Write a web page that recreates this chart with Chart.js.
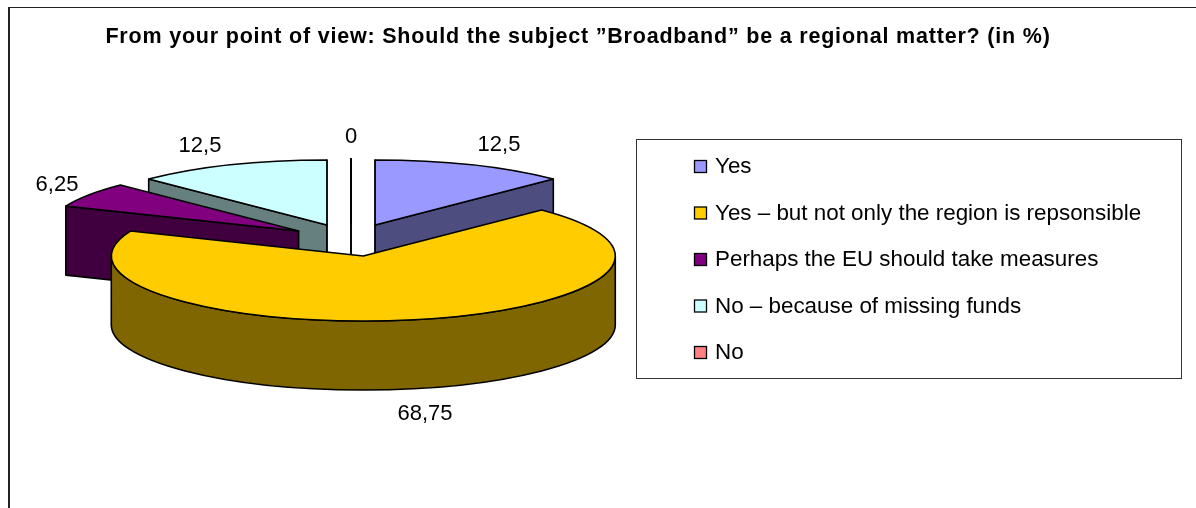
<!DOCTYPE html>
<html>
<head>
<meta charset="utf-8">
<title>Broadband as a regional matter</title>
<script src="https://cdn.jsdelivr.net/npm/chart.js@4"></script>
<style>
    html, body { margin: 0; padding: 0; background: #ffffff; overflow: hidden; }
    canvas { display: block; }
</style>
</head>
<body>
<canvas id="pieChart" width="1196" height="508"></canvas>
<script>
const chartTitle = 'From your point of view: Should the subject ”Broadband” be a regional matter? (in %)';
const categories = [
    'Yes',
    'Yes – but not only the region is repsonsible',
    'Perhaps the EU should take measures',
    'No – because of missing funds',
    'No'
];
const shares = [12.5, 68.75, 6.25, 12.5, 0];
const topColors = ['#9999ff', '#ffcc00', '#800080', '#ccffff', '#ff8080'];
const sideColors = ['#4d4d80', '#806600', '#400040', '#668080', '#804040'];

// --- 3D PIE GEOMETRY ---
const PIE = { x: 351, y: 240, rx: 252, ry: 65, depth: 69, explode: 0.25 };
const FONT = "'Liberation Sans', Arial, sans-serif";

// value label centres, same order as the categories
const labelSpots = [[499, 145], [425, 414], [57, 185], [200, 146], [351, 137]];

function sliceCentre(arc) {
    const mid = (arc.startAngle + arc.endAngle) / 2;
    return {
        x: PIE.x + Math.cos(mid) * PIE.rx * PIE.explode,
        y: PIE.y + Math.sin(mid) * PIE.ry * PIE.explode
    };
}

function drawWall(ctx, c, angle, color) {
    const ex = c.x + Math.cos(angle) * PIE.rx;
    const ey = c.y + Math.sin(angle) * PIE.ry;
    ctx.beginPath();
    ctx.moveTo(c.x, c.y);
    ctx.lineTo(ex, ey);
    ctx.lineTo(ex, ey + PIE.depth);
    ctx.lineTo(c.x, c.y + PIE.depth);
    ctx.closePath();
    ctx.fillStyle = color;
    ctx.fill();
    ctx.stroke();
}

function drawRim(ctx, c, from, to, color) {
    ctx.beginPath();
    ctx.ellipse(c.x, c.y, PIE.rx, PIE.ry, 0, from, to);
    ctx.ellipse(c.x, c.y + PIE.depth, PIE.rx, PIE.ry, 0, to, from, true);
    ctx.closePath();
    ctx.fillStyle = color;
    ctx.fill();
    ctx.stroke();
}

// Only the front half of the ellipse (0..PI) shows a rim
function rimRange(arc) {
    const turn = Math.PI * 2;
    for (const shift of [-turn, 0, turn]) {
        const from = Math.max(arc.startAngle + shift, 0);
        const to = Math.min(arc.endAngle + shift, Math.PI);
        if (to > from) return [from, to];
    }
    return null;
}

const pie3d = {
    id: 'pie3d',
    beforeDraw(chart) {
        // Outer frame runs off the right and bottom of the page
        const ctx = chart.ctx;
        ctx.save();
        ctx.fillStyle = '#222222';
        ctx.fillRect(8, 7, 1188, 1);
        ctx.fillRect(8, 7, 2, 501);
        ctx.restore();
        // the title box has no spacing option, so set it on the context
        ctx.letterSpacing = '0.8px';
    },
    beforeDatasetsDraw(chart) {
        const ctx = chart.ctx;
        const arcs = chart.getDatasetMeta(0).data.map((arc, i) => ({ arc, i, c: sliceCentre(arc) }));
        arcs.sort((a, b) => a.c.y - b.c.y);

        ctx.save();
        ctx.strokeStyle = '#000000';
        ctx.lineWidth = 1.6;
        ctx.lineJoin = 'round';
        arcs.forEach(({ arc, i, c }) => {
            // back to front: cut faces, rim, then the top
            if (Math.cos(arc.startAngle) <= 1e-6) drawWall(ctx, c, arc.startAngle, sideColors[i]);
            if (Math.cos(arc.endAngle) >= -1e-6) drawWall(ctx, c, arc.endAngle, sideColors[i]);
            const rim = rimRange(arc);
            if (rim) drawRim(ctx, c, rim[0], rim[1], sideColors[i]);

            ctx.beginPath();
            ctx.moveTo(c.x, c.y);
            ctx.ellipse(c.x, c.y, PIE.rx, PIE.ry, 0, arc.startAngle, arc.endAngle);
            ctx.closePath();
            ctx.fillStyle = topColors[i];
            ctx.fill();
            ctx.stroke();
        });
        ctx.restore();
        return false;
    },
    afterDraw(chart) {
        const ctx = chart.ctx;
        ctx.letterSpacing = '0px';
        ctx.save();

        // Value labels
        ctx.fillStyle = '#000000';
        ctx.font = '22px ' + FONT;
        ctx.textAlign = 'center';
        ctx.textBaseline = 'middle';
        shares.forEach((v, i) => {
            ctx.fillText(String(v).replace('.', ','), labelSpots[i][0], labelSpots[i][1]);
        });

        // Legend box
        ctx.strokeStyle = '#333333';
        ctx.lineWidth = 1;
        ctx.strokeRect(636.5, 139.5, 545, 239);
        ctx.font = '22.4px ' + FONT;
        ctx.textAlign = 'left';
        categories.forEach((name, i) => {
            const rowY = 167 + i * 46.5;
            ctx.fillStyle = topColors[i];
            ctx.fillRect(694.5, rowY - 6.5, 12, 12);
            ctx.strokeStyle = '#000000';
            ctx.lineWidth = 1.3;
            ctx.strokeRect(694.5, rowY - 6.5, 12, 12);
            ctx.fillStyle = '#000000';
            ctx.fillText(name, 715, rowY);
        });
        ctx.restore();
    }
};

new Chart(document.getElementById('pieChart'), {
    type: 'pie',
    data: {
        labels: categories,
        datasets: [{
            data: shares,
            backgroundColor: topColors,
            borderColor: '#000000'
        }]
    },
    options: {
        responsive: false,
        animation: false,
        events: [],
        layout: { padding: { right: 40 } },
        plugins: {
            legend: { display: false },
            tooltip: { enabled: false },
            title: {
                display: true,
                text: chartTitle,
                fullSize: false,
                color: '#000000',
                font: { family: FONT, size: 21.5, weight: 'bold' },
                padding: { top: 24, bottom: 10 }
            }
        }
    },
    plugins: [pie3d]
});
</script>
</body>
</html>
